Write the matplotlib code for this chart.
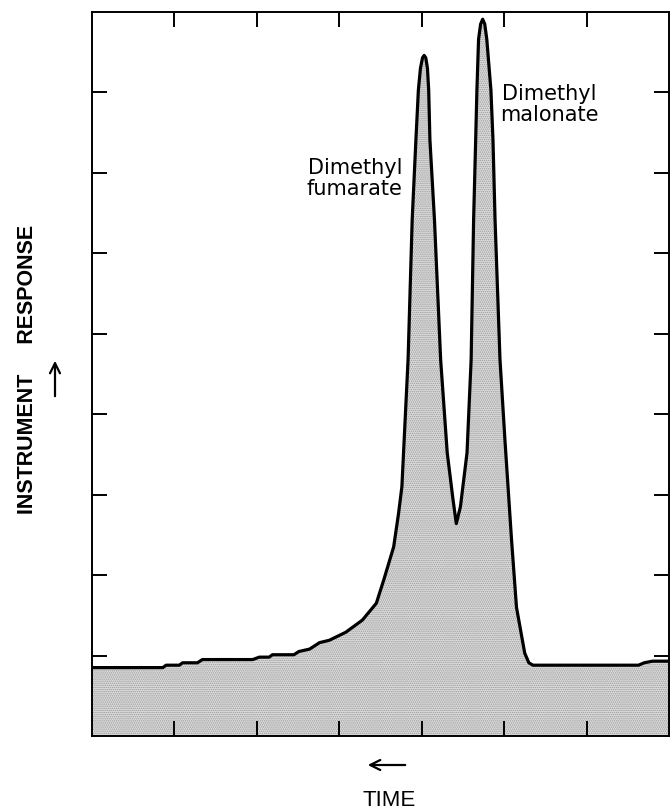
import matplotlib
matplotlib.use("Agg")
import matplotlib.pyplot as plt

# chromatogram trace (time units 0-7, response units 0-9)
time = [0.00, 0.86, 0.90, 1.06, 1.10, 1.28, 1.34, 1.95, 2.03, 2.15, 2.19, 2.45,
        2.51, 2.64, 2.76, 2.88, 3.08, 3.28, 3.45, 3.54, 3.66, 3.72, 3.76, 3.835,
        3.885, 3.93, 3.96, 3.985, 4.01, 4.03, 4.05, 4.07, 4.085, 4.10, 4.155,
        4.23, 4.31, 4.38, 4.42, 4.47, 4.55, 4.60, 4.63, 4.655, 4.67,
        4.69, 4.715, 4.74, 4.765, 4.79, 4.84, 4.865, 4.89, 4.95, 5.01,
        5.09, 5.15, 5.25, 5.30, 5.35, 6.63, 6.70, 6.80, 7.00]
response = [0.85, 0.85, 0.88, 0.88, 0.91, 0.91, 0.95, 0.95, 0.98, 0.98, 1.01, 1.01,
            1.05, 1.08, 1.16, 1.19, 1.29, 1.44, 1.65, 1.94, 2.35, 2.77, 3.10, 4.68,
            6.42, 7.41, 8.03, 8.30, 8.43, 8.46, 8.43, 8.30, 8.03, 7.41, 6.42,
            4.68, 3.52, 2.94, 2.64, 2.85, 3.52, 4.68, 6.42, 7.41, 8.03,
            8.66, 8.85, 8.91, 8.85, 8.66, 8.03, 7.41, 6.42, 4.68, 3.68,
            2.44, 1.60, 1.03, 0.91, 0.88, 0.88, 0.91, 0.93, 0.93]

x_ticks = [1, 2, 3, 4, 5, 6]
y_ticks = [1, 2, 3, 4, 5, 6, 7, 8]

peak_labels = ["Dimethyl\nfumarate", "Dimethyl\nmalonate"]
label_pos = [(3.19, 6.93), (5.55, 7.85)]

plt.rcParams['hatch.linewidth'] = 0.7

fig = plt.figure(figsize=(6.71, 8.11), dpi=100)
ax = fig.add_axes([0.137, 0.0925, 0.86, 0.8927])

ax.fill_between(time, 0, response, facecolor='#dcdcdc', edgecolor='#9a9a9a',
                hatch='........', linewidth=0)
ax.plot(time, response, color='black', linewidth=2.3, solid_joinstyle='round')

ax.set_xlim(0, 7)
ax.set_ylim(0, 9)
ax.set_xticks(x_ticks)
ax.set_yticks(y_ticks)
ax.tick_params(direction='in', length=11, width=1.4, top=True, right=True,
               labelbottom=False, labelleft=False)
for s in ax.spines.values():
    s.set_linewidth(1.4)

for txt, (x, y) in zip(peak_labels, label_pos):
    ax.text(x, y, txt, ha='center', va='center', fontsize=15,
            family='DejaVu Sans', linespacing=1.02)

# axis captions with arrows
fig.text(28 / 671, 1 - 369 / 811, "INSTRUMENT     RESPONSE", rotation=90,
         ha='center', va='center', fontsize=15.5, fontweight='bold',
         family='Liberation Sans')
fig.text(389 / 671, 1 - 801 / 811, "TIME", ha='center', va='center',
         fontsize=16, family='Liberation Sans')
ax.annotate('', xy=(55 / 671, 1 - 358 / 811), xytext=(55 / 671, 1 - 399 / 811),
            xycoords='figure fraction', textcoords='figure fraction',
            arrowprops=dict(arrowstyle='->', color='black', lw=1.6,
                            mutation_scale=18))
ax.annotate('', xy=(365 / 671, 1 - 765 / 811), xytext=(408 / 671, 1 - 765 / 811),
            xycoords='figure fraction', textcoords='figure fraction',
            arrowprops=dict(arrowstyle='->', color='black', lw=1.6,
                            mutation_scale=18))

fig.savefig("out.png", dpi=100)
